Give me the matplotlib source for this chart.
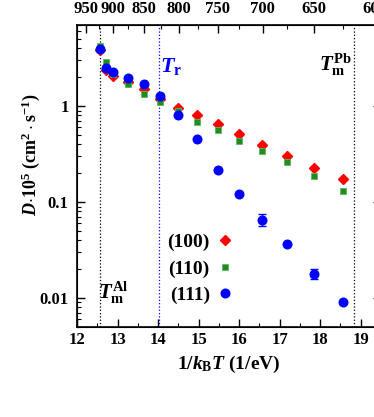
import numpy as np
import matplotlib
matplotlib.use('Agg')
import matplotlib.pyplot as plt
from matplotlib.ticker import FixedLocator, MultipleLocator

plt.rcParams['font.family'] = 'Liberation Serif'
plt.rcParams['font.weight'] = 'bold'
plt.rcParams['mathtext.fontset'] = 'custom'
plt.rcParams['mathtext.rm'] = 'Liberation Serif:bold'
plt.rcParams['mathtext.it'] = 'Liberation Serif:bold:italic'
plt.rcParams['mathtext.bf'] = 'Liberation Serif:bold'

# 1/kBT (1/eV)
x_inv = [12.56, 12.71, 12.89, 13.26, 13.65, 14.05, 14.50, 14.97, 15.47, 16.00, 16.57, 17.19, 17.84, 18.56]

# D*10^5 (cm^2/s)
d_100 = [3.88, 2.36, 2.08, 1.79, 1.49, 1.20, 0.949, 0.802, 0.657, 0.513, 0.391, 0.300, 0.229, 0.174]
d_110 = [4.27, 2.89, 2.14, 1.70, 1.35, 1.11, 0.887, 0.690, 0.569, 0.434, 0.338, 0.260, 0.189, 0.130]
d_111 = [3.97, 2.52, 2.26, 1.97, 1.69, 1.29, 0.802, 0.451, 0.217, 0.121, 0.0653, 0.0370, 0.0179, 0.00904]
# error bars of (111): lower / upper
err_111_lo = [0, 0, 0, 0, 0, 0, 0, 0, 0, 0, 0.0088, 0, 0.0019, 0]
err_111_hi = [0, 0, 0, 0, 0, 0, 0, 0, 0, 0, 0.0093, 0, 0.0021, 0]

# vertical marker lines
x_al = 12.57
x_r = 14.03
x_pb = 18.84

# top axis temperatures (K)
temps_major = [950, 900, 850, 800, 750, 700, 650, 600]
temps_minor = [925, 875, 825, 775, 725, 675, 625]
kB = 8.617e-5

fig = plt.figure(figsize=(3.74, 4.17), dpi=100)
ax = fig.add_axes([77 / 374, 90 / 417, 304 / 374, 302 / 417])

ax.axvline(x_al, color='black', ls=':', lw=0.9)
ax.axvline(x_r, color='blue', ls=':', lw=0.9)
ax.axvline(x_pb, color='black', ls=':', lw=0.9)

ax.plot(x_inv, d_100, 'D', color='red', ms=4.8, mec='red', label='(100)', zorder=3)
ax.plot(x_inv, d_110, 's', color='#228b22', ms=5.0, mec='#5cb85c', mew=0.6, label='(110)', zorder=3)
ax.errorbar(x_inv, d_111, yerr=[err_111_lo, err_111_hi], fmt='none', ecolor='blue',
            capsize=3, elinewidth=1, capthick=1, zorder=4)
ax.plot(x_inv, d_111, 'o', color='blue', ms=6.2, label='(111)', zorder=4)

ax.set_yscale('log')
ax.set_xlim(12, 19.5)
ax.set_ylim(0.005, 7)

ax.xaxis.set_major_locator(MultipleLocator(1))
ax.xaxis.set_minor_locator(MultipleLocator(0.5))
ax.set_yticks([0.01, 0.1, 1])
ax.set_yticklabels(['0.01', '0.1', '1'])
ax.tick_params(which='both', direction='in', top=False, right=True, labelsize=12)
ax.tick_params(axis='y', pad=6)
ax.tick_params(which='major', length=6, width=1)
ax.tick_params(which='minor', length=3, width=0.8)
for sp in ax.spines.values():
    sp.set_linewidth(1.2)

ax.set_xlabel(r'$\mathbf{1/}k_{\mathbf{B}}T\ \mathbf{(1/eV)}$', fontsize=14, labelpad=4)
ax.set_ylabel(r'$D\mathbf{\cdot 10^{5}\ (cm^{2}\cdot s^{-1})}$', fontsize=13)
ax.yaxis.set_label_coords(-0.115, 0.57)

# top axis in temperature
top = ax.twiny()
top.set_xlim(ax.get_xlim())
top.xaxis.set_major_locator(FixedLocator([1 / (kB * t) for t in temps_major]))
top.xaxis.set_minor_locator(FixedLocator([1 / (kB * t) for t in temps_minor]))
top.set_xticklabels([str(t) for t in temps_major])
top.tick_params(which='both', direction='in', labelsize=12, pad=6)
top.tick_params(which='major', length=6, width=1)
top.tick_params(which='minor', length=3, width=0.8)

ax.text(14.05, 2.25, r'$T_{\mathbf{r}}$', color='blue', fontsize=16)
ax.text(18.78, 2.35, r'$T_{\mathbf{m}}^{\mathbf{Pb}}$', color='black', fontsize=15, ha='right')
ax.text(12.53, 0.0099, r'$T_{\mathbf{m}}^{\mathbf{Al}}$', color='black', fontsize=15)

ax.legend(loc='lower left', bbox_to_anchor=(0.24, 0.018), frameon=False, markerfirst=False,
          fontsize=14, handlelength=0.6, handletextpad=0.5, labelspacing=0.45)

fig.savefig('out.png', dpi=100)
